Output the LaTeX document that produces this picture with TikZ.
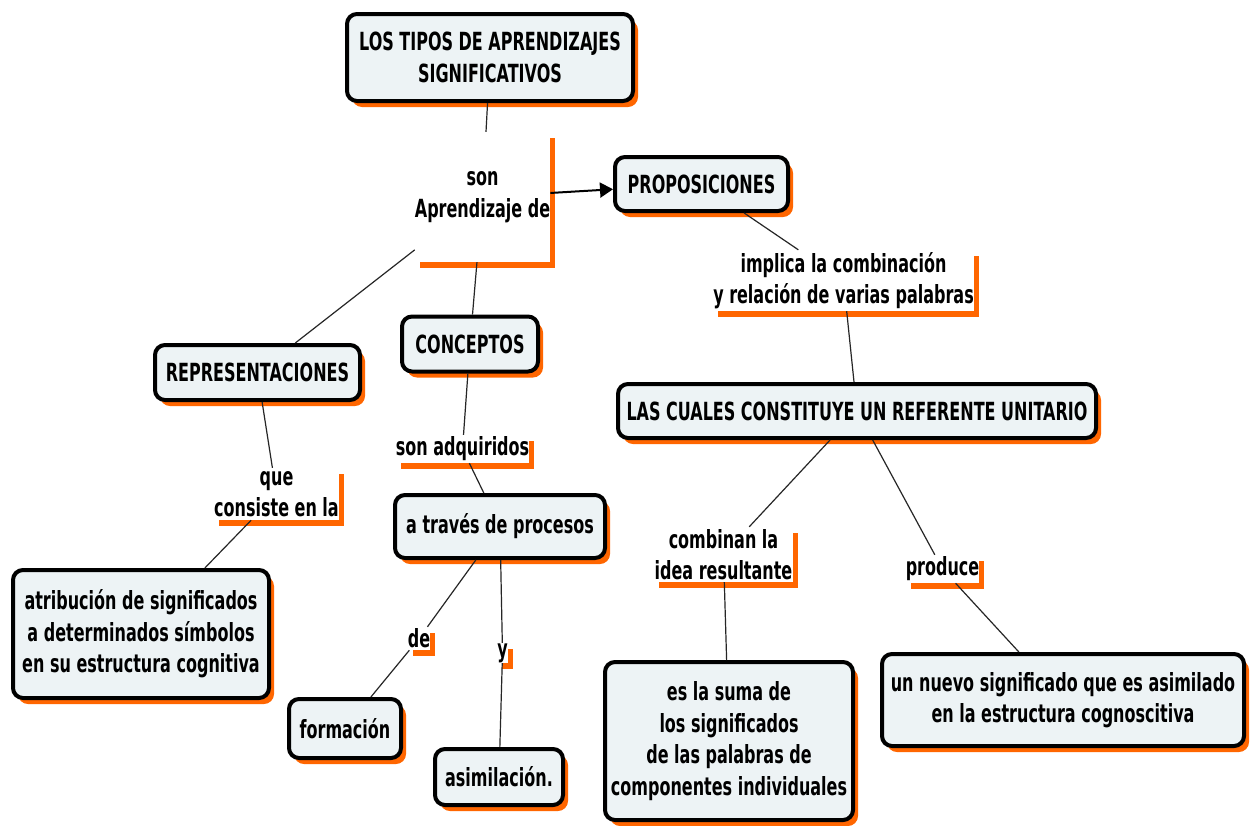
\documentclass[tikz,border=0pt]{standalone}
\usepackage{fontspec}
\newfontfamily\mapfont{DejaVu Sans}[FakeStretch=0.64]
\usepackage{xcolor}
\usepackage{tikz}
\usetikzlibrary{shadows,arrows.meta}
\definecolor{boxfill}{RGB}{237,243,245}
\definecolor{shadeorange}{RGB}{255,102,0}

\begin{document}
\begin{tikzpicture}[x=1pt, y=-1pt,
  concept/.style={draw, line width=4pt, rounded corners=10pt, fill=boxfill,
              align=center, inner sep=1pt,
              font=\mapfont\bfseries\fontsize{25}{31.5}\selectfont,
              drop shadow={shadow xshift=5pt, shadow yshift=-6pt, fill=shadeorange, opacity=1}},
  link/.style={fill=white, align=center, inner sep=0pt,
              font=\mapfont\bfseries\fontsize{25}{31.5}\selectfont,
              drop shadow={shadow xshift=5pt, shadow yshift=-6pt, fill=shadeorange, opacity=1}},
  con/.style={line width=1.2pt, draw=black!85},
  arr/.style={-{Triangle[length=13pt,width=15pt]}, line width=2pt}
]
  \useasboundingbox[fill=white] (0,0) rectangle (1252,825);

  % Top concept
  \node[concept, minimum width=286pt, minimum height=87pt] (tipos) at (490,57.5)
    {LOS TIPOS DE APRENDIZAJES\\SIGNIFICATIVOS};
  \node[link, minimum width=131pt, minimum height=130pt] (son) at (482.5,197)
    {son\\Aprendizaje de};
  \node[concept, minimum width=173pt, minimum height=54pt] (prop) at (701.5,184)
    {PROPOSICIONES};

  % Left branch
  \node[concept, minimum width=205pt, minimum height=55pt] (repr) at (257.5,372.5)
    {REPRESENTACIONES};
  \node[link, minimum width=121pt, minimum height=52pt] (que) at (276.5,494)
    {que\\consiste en la};
  \node[concept, minimum width=256pt, minimum height=128pt] (atrib) at (141,634)
    {atribución de significados\\a determinados símbolos\\en su estructura cognitiva};

  % Middle branch
  \node[concept, minimum width=136pt, minimum height=55pt] (conc) at (470,344)
    {CONCEPTOS};
  \node[link, minimum width=129pt, minimum height=28pt] (adq) at (462.5,449)
    {son adquiridos};
  \node[concept, minimum width=210pt, minimum height=63pt] (traves) at (500,526.5)
    {a través de procesos};
  \node[link, minimum width=22pt, minimum height=23pt] (de) at (419,638.5) {de};
  \node[link, minimum width=11pt, minimum height=20pt] (y) at (502.5,653) {y};
  \node[concept, minimum width=112pt, minimum height=59pt] (form) at (345,728.5)
    {formación};
  \node[concept, minimum width=128pt, minimum height=56pt] (asim) at (499,777)
    {asimilación.};

  % Right branch
  \node[link, minimum width=253pt, minimum height=61pt] (impl) at (843.5,280.5)
    {implica la combinación\\y relación de varias palabras};
  \node[concept, minimum width=478pt, minimum height=54pt] (cuales) at (857,411)
    {LAS CUALES CONSTITUYE UN REFERENTE UNITARIO};
  \node[link, minimum width=139pt, minimum height=55pt] (comb) at (723.5,554.5)
    {combinan la\\idea resultante};
  \node[link, minimum width=71pt, minimum height=28pt] (prod) at (942.5,569)
    {produce};
  \node[concept, minimum width=248pt, minimum height=158pt] (suma) at (729,741)
    {es la suma de\\los significados\\de las palabras de\\componentes individuales};
  \node[concept, minimum width=362pt, minimum height=92pt] (nuevo) at (1063,700)
    {un nuevo significado que es asimilado\\en la estructura cognoscitiva};

  % Connectors
  \draw[con] (tipos) -- (son);
  \draw[arr] (son) -- (prop);
  \draw[con] (son) -- (repr);
  \draw[con] (son) -- (conc);
  \draw[con] (repr) -- (que);
  \draw[con] (que) -- (atrib);
  \draw[con] (conc) -- (adq);
  \draw[con] (adq) -- (traves);
  \draw[con] (traves) -- (de);
  \draw[con] (traves) -- (y);
  \draw[con] (de) -- (form);
  \draw[con] (y) -- (asim);
  \draw[con] (prop) -- (impl);
  \draw[con] (impl) -- (cuales);
  \draw[con] (cuales) -- (comb);
  \draw[con] (cuales) -- (prod);
  \draw[con] (comb) -- (suma);
  \draw[con] (prod) -- (nuevo);
\end{tikzpicture}
\end{document}
